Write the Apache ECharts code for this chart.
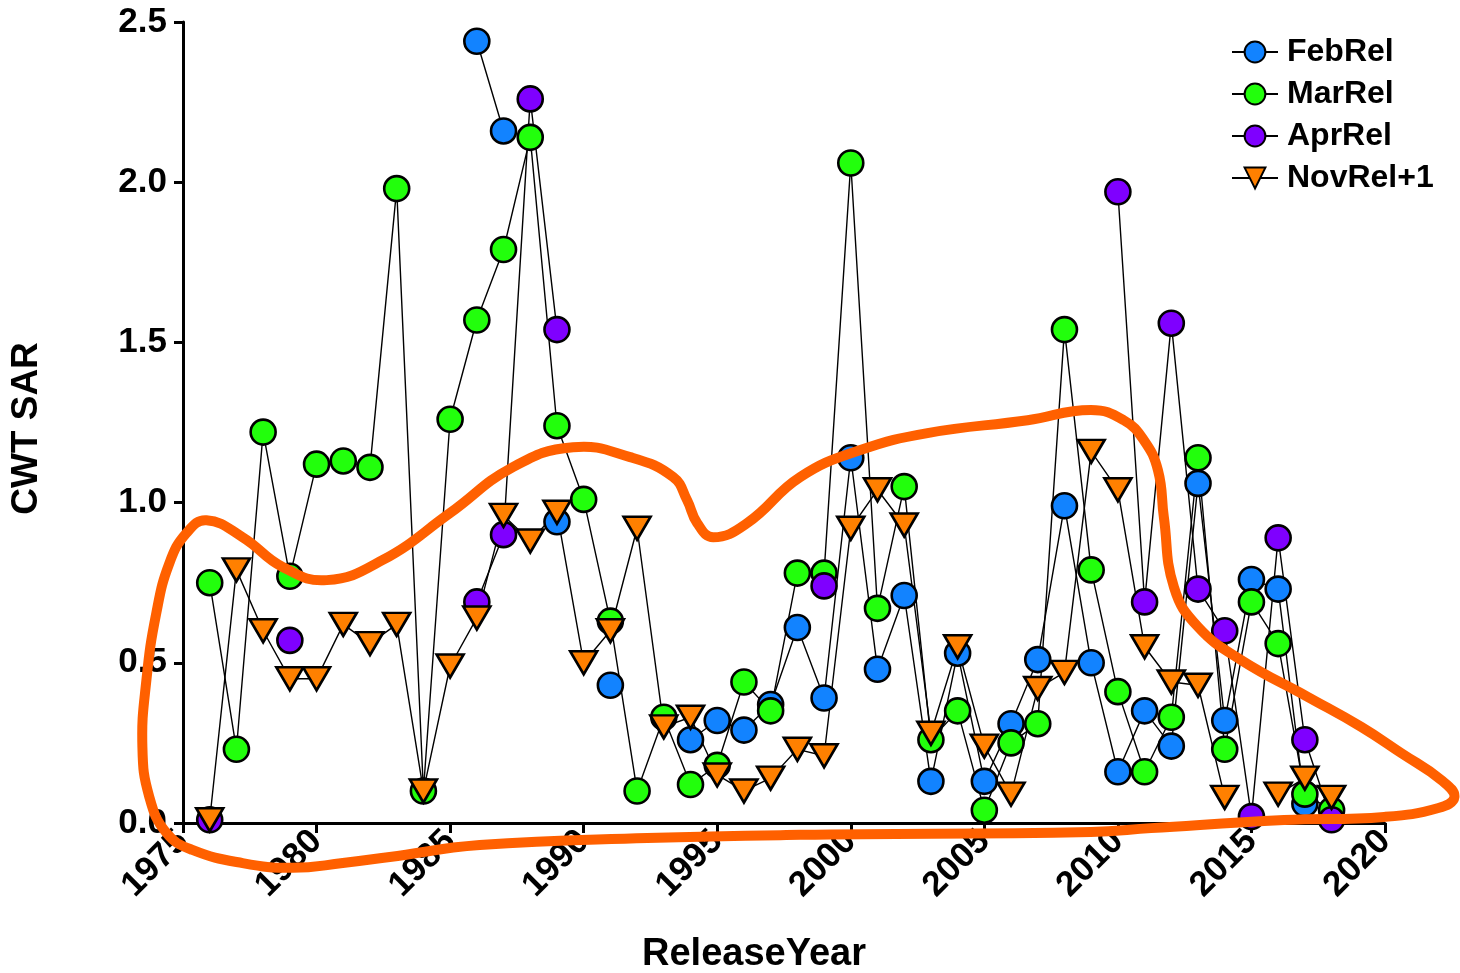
<!DOCTYPE html>
<html>
<head>
<meta charset="utf-8">
<title>CWT SAR by Release Year</title>
<script src="https://cdn.jsdelivr.net/npm/echarts@6/dist/echarts.min.js"></script>
<style>
  html, body { margin: 0; padding: 0; background: #ffffff; }
  #chart { width: 1460px; height: 973px; }
</style>
</head>
<body>
<div id="chart"></div>
<script>
// Release years, one entry per year
const releaseYears = [
  1976, 1977, 1978, 1979, 1980, 1981, 1982, 1983, 1984, 1985,
  1986, 1987, 1988, 1989, 1990, 1991, 1992, 1993, 1994, 1995,
  1996, 1997, 1998, 1999, 2000, 2001, 2002, 2003, 2004, 2005,
  2006, 2007, 2008, 2009, 2010, 2011, 2012, 2013, 2014, 2015,
  2016, 2017, 2018
];

// CWT smolt-to-adult return rates (null = no release that year)
const febRel = [
  null, null, null, null, null, null, null, null, null, null,
  2.44, 2.16, null, 0.94, null, 0.43, null, null, 0.26, 0.32,
  0.29, 0.37, 0.61, 0.39, 1.14, 0.48, 0.71, 0.13, 0.53, 0.13,
  0.31, 0.51, 0.99, 0.50, 0.16, 0.35, 0.24, 1.06, 0.32, 0.76,
  0.73, 0.06, null
];
const marRel = [
  0.75, 0.23, 1.22, 0.77, 1.12, 1.13, 1.11, 1.98, 0.10, 1.26,
  1.57, 1.79, 2.14, 1.24, 1.01, 0.63, 0.10, 0.33, 0.12, 0.18,
  0.44, 0.35, 0.78, 0.78, 2.06, 0.67, 1.05, 0.26, 0.35, 0.04,
  0.25, 0.31, 1.54, 0.79, 0.41, 0.16, 0.33, 1.14, 0.23, 0.69,
  0.56, 0.09, 0.04
];
const aprRel = [
  0.01, null, null, 0.57, null, null, null, null, null, null,
  0.69, 0.90, 2.26, 1.54, null, null, null, null, null, null,
  null, null, null, 0.74, null, null, null, null, null, null,
  null, null, null, null, 1.97, 0.69, 1.56, 0.73, 0.60, 0.02,
  0.89, 0.26, 0.01
];
const novRelPlus1 = [
  0.01, 0.79, 0.60, 0.45, 0.45, 0.62, 0.56, 0.62, 0.10, 0.49,
  0.64, 0.96, 0.88, 0.97, 0.50, 0.60, 0.92, 0.30, 0.33, 0.15,
  0.10, 0.14, 0.23, 0.21, 0.92, 1.04, 0.93, 0.28, 0.55, 0.24,
  0.09, 0.42, 0.47, 1.16, 1.04, 0.55, 0.44, 0.43, 0.08, null,
  0.09, 0.14, 0.08
];

// Hand-drawn highlight loop (closed), in (year, SAR) coordinates
const loopYears = [
  1975.88, 1977.23, 1978.73, 1980.38, 1982.48, 1984.99, 1987.35, 1989.60, 1991.74, 1993.35,
  1993.87, 1994.25, 1994.85, 1996.12, 1998.11, 2000.36, 2002.87, 2006.62, 2008.99, 2010.22,
  2010.97, 2011.50, 2011.72, 2012.10, 2013.00, 2014.61, 2017.12, 2019.11, 2020.61, 2022.11,
  2022.60, 2022.00, 2019.97, 2016.22, 2011.24, 2008.99, 1998.11, 1992.38, 1986.11, 1982.74,
  1980.98, 1979.10, 1977.23, 1975.35, 1974.38, 1973.74, 1973.48, 1973.63, 1974.00, 1974.49,
  1975.13
];
const loopValues = [
  0.945, 0.892, 0.799, 0.758, 0.821, 0.967, 1.111, 1.173, 1.142, 1.080,
  1.008, 0.936, 0.892, 0.936, 1.080, 1.164, 1.217, 1.257, 1.289, 1.257,
  1.195, 1.101, 0.955, 0.736, 0.612, 0.509, 0.393, 0.300, 0.218, 0.134,
  0.081, 0.047, 0.019, 0.009, -0.016, -0.028, -0.037, -0.047, -0.069, -0.106,
  -0.125, -0.140, -0.125, -0.084, -0.031, 0.081, 0.237, 0.446, 0.655, 0.811,
  0.905
];

const yTicks = ['0.0', '0.5', '1.0', '1.5', '2.0', '2.5'];

const FONT = "'Liberation Sans', Arial, sans-serif";

function pairs(values) {
  return releaseYears.map((y, i) => [y, values[i] === null ? null : values[i]]);
}

function markerSeries(name, values, color, symbol) {
  const isTri = symbol === 'triangle';
  return {
    name: name,
    type: 'line',
    data: pairs(values),
    connectNulls: false,
    clip: false,
    symbol: symbol,
    symbolSize: isTri ? [27, 23] : 25,
    symbolRotate: isTri ? 180 : 0,
    showAllSymbol: true,
    lineStyle: { color: '#000000', width: 1.4 },
    itemStyle: { color: color, borderColor: '#000000', borderWidth: 2.6, opacity: 1 },
    emphasis: { disabled: true },
    animation: false
  };
}

const chart = echarts.init(document.getElementById('chart'), null, { renderer: 'canvas' });

chart.setOption({
  backgroundColor: '#ffffff',
  animation: false,
  grid: { left: 183, top: 22, right: 75, bottom: 150, containLabel: false, outerBoundsMode: 'none' },
  xAxis: {
    type: 'value',
    min: 1975,
    max: 2020,
    interval: 5,
    name: 'ReleaseYear',
    nameLocation: 'middle',
    nameGap: 113,
    nameTextStyle: { fontFamily: FONT, fontWeight: 'bold', fontSize: 38, color: '#000', padding: [0, 60, 0, 0] },
    axisLine: { show: true, onZero: false, lineStyle: { color: '#000', width: 3 } },
    axisTick: { show: true, length: 10, lineStyle: { color: '#000', width: 3 } },
    axisLabel: {
      fontFamily: FONT, fontWeight: 'bold', fontSize: 35, color: '#000',
      rotate: 45, margin: 13, formatter: v => String(v)
    },
    splitLine: { show: false }
  },
  yAxis: {
    type: 'value',
    min: 0,
    max: 2.5,
    interval: 0.5,
    name: 'CWT SAR',
    nameLocation: 'middle',
    nameRotate: 90,
    nameGap: 138,
    nameTextStyle: { fontFamily: FONT, fontWeight: 'bold', fontSize: 37, color: '#000', padding: [0, 12, 0, 0] },
    axisLine: { show: true, lineStyle: { color: '#000', width: 3 } },
    axisTick: { show: true, length: 9, lineStyle: { color: '#000', width: 3 } },
    axisLabel: {
      fontFamily: FONT, fontWeight: 'bold', fontSize: 35, color: '#000', margin: 16,
      formatter: v => yTicks[Math.round(v / 0.5)]
    },
    splitLine: { show: false }
  },
  legend: {
    orient: 'vertical',
    left: 1226,
    top: 31,
    itemWidth: 46,
    itemHeight: 26,
    itemGap: 10,
    selectedMode: false,
    data: ['FebRel', 'MarRel', 'AprRel', 'NovRel+1'],
    textStyle: { fontFamily: FONT, fontWeight: 'bold', fontSize: 32, color: '#000', padding: [0, 0, 0, 4] }
  },
  series: [
    markerSeries('FebRel', febRel, '#1283FF', 'circle'),
    markerSeries('MarRel', marRel, '#22FF0C', 'circle'),
    markerSeries('AprRel', aprRel, '#7F00FF', 'circle'),
    markerSeries('NovRel+1', novRelPlus1, '#FF8000', 'triangle'),
    {
      name: 'highlight',
      type: 'custom',
      data: [[loopYears[0], loopValues[0]]],
      clip: false,
      silent: true,
      z: 10,
      renderItem: function (params, api) {
        const pts = loopYears.map((y, i) => api.coord([y, loopValues[i]]));
        return {
          type: 'polygon',
          shape: { points: pts, smooth: 0.45 },
          style: { fill: null, stroke: '#FF6000', lineWidth: 10, lineJoin: 'round' }
        };
      },
      animation: false
    }
  ]
});
</script>
</body>
</html>
